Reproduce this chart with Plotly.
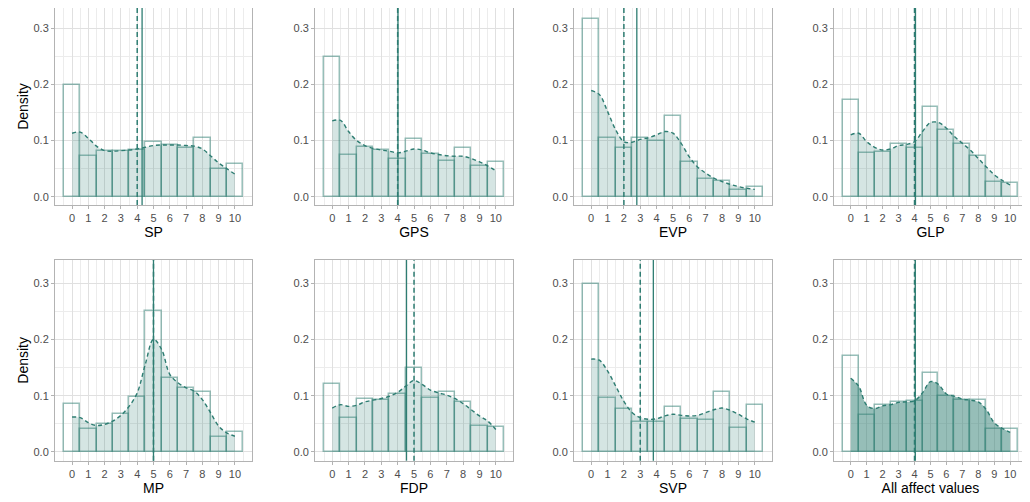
import plotly.graph_objects as go

# affect scale values 0-10, bins of width 1
BINS = [0, 1, 2, 3, 4, 5, 6, 7, 8, 9, 10]
DENS_X = [0, 0.5, 1, 1.5, 2, 2.5, 3, 3.5, 4, 4.5, 5,
          5.5, 6, 6.5, 7, 7.5, 8, 8.5, 9, 9.5, 10]

SP_HIST = [0.198, 0.072, 0.081, 0.082, 0.083, 0.098, 0.0915, 0.087, 0.105, 0.050, 0.058]
SP_DENS = [0.113, 0.115, 0.104, 0.090, 0.082, 0.081, 0.082, 0.083, 0.085, 0.088, 0.091,
           0.092, 0.092, 0.092, 0.091, 0.090, 0.085, 0.073, 0.060, 0.050, 0.040]

GPS_HIST = [0.248, 0.074, 0.088, 0.084, 0.067, 0.102, 0.076, 0.063, 0.086, 0.055, 0.062]
GPS_DENS = [0.135, 0.136, 0.116, 0.100, 0.091, 0.086, 0.083, 0.081, 0.078, 0.081, 0.085,
            0.083, 0.078, 0.075, 0.073, 0.072, 0.072, 0.068, 0.062, 0.055, 0.046]

EVP_HIST = [0.316, 0.104, 0.087, 0.105, 0.100, 0.144, 0.061, 0.031, 0.028, 0.012, 0.018]
EVP_DENS = [0.189, 0.182, 0.152, 0.119, 0.098, 0.097, 0.102, 0.105, 0.110, 0.116, 0.113,
            0.095, 0.071, 0.053, 0.042, 0.033, 0.027, 0.022, 0.018, 0.015, 0.013]

GLP_HIST = [0.172, 0.078, 0.080, 0.094, 0.086, 0.160, 0.118, 0.093, 0.073, 0.026, 0.024]
GLP_DENS = [0.110, 0.113, 0.098, 0.088, 0.083, 0.085, 0.091, 0.093, 0.098, 0.116, 0.132,
            0.132, 0.122, 0.107, 0.095, 0.083, 0.068, 0.053, 0.039, 0.029, 0.021]

MP_HIST = [0.0856, 0.040, 0.049, 0.068, 0.097, 0.251, 0.131, 0.114, 0.107, 0.027, 0.036]
MP_DENS = [0.062, 0.061, 0.052, 0.047, 0.049, 0.055, 0.065, 0.081, 0.105, 0.156, 0.200,
           0.182, 0.138, 0.123, 0.114, 0.108, 0.093, 0.070, 0.046, 0.034, 0.028]

FDP_HIST = [0.121, 0.061, 0.094, 0.0915, 0.103, 0.150, 0.096, 0.106, 0.0885, 0.046, 0.044]
FDP_DENS = [0.078, 0.084, 0.081, 0.083, 0.089, 0.092, 0.095, 0.099, 0.106, 0.117, 0.127,
            0.120, 0.110, 0.105, 0.101, 0.095, 0.086, 0.075, 0.064, 0.055, 0.040]

SVP_HIST = [0.298, 0.096, 0.0755, 0.0535, 0.0535, 0.080, 0.059, 0.0565, 0.106, 0.043, 0.083]
SVP_DENS = [0.165, 0.163, 0.144, 0.117, 0.090, 0.070, 0.061, 0.058, 0.059, 0.064, 0.067,
            0.065, 0.064, 0.065, 0.070, 0.075, 0.078, 0.074, 0.067, 0.059, 0.053]

ALL_HIST = [0.171, 0.066, 0.0826, 0.089, 0.090, 0.140, 0.100, 0.093, 0.092, 0.041, 0.040]
ALL_DENS = [0.131, 0.117, 0.083, 0.077, 0.082, 0.084, 0.088, 0.089, 0.091, 0.105, 0.125,
            0.120, 0.103, 0.099, 0.094, 0.092, 0.089, 0.075, 0.052, 0.042, 0.035]

NAMES = ["SP", "GPS", "EVP", "GLP", "MP", "FDP", "SVP", "All affect values"]
HISTS = [SP_HIST, GPS_HIST, EVP_HIST, GLP_HIST, MP_HIST, FDP_HIST, SVP_HIST, ALL_HIST]
DENSITIES = [SP_DENS, GPS_DENS, EVP_DENS, GLP_DENS, MP_DENS, FDP_DENS, SVP_DENS, ALL_DENS]
MEANS = [4.30, 4.02, 2.79, 4.06, 5.00, 4.54, 3.80, 4.05]
MEDIANS = [4, 4, 2, 4, 5, 5, 3, 4]

TEAL = "rgb(46,125,114)"
FONT = "Liberation Sans, Arial, sans-serif"

# page body adds an 8px offset, domains compensate for it
col_x = [(0.0456, 0.2369), (0.2981, 0.4903), (0.5495, 0.7417), (0.8019, 0.9893)]
row_y = [(0.6076, 1.0), (0.0982, 0.498)]
row_range = [[-0.0148, 0.336], [-0.0155, 0.341]]

fig = go.Figure()
layout = dict(
    width=1030, height=502,
    margin=dict(l=0, r=0, t=0, b=0),
    plot_bgcolor="white", paper_bgcolor="white",
    showlegend=False, bargap=0,
    font=dict(family=FONT),
)
shapes = []

for i, name in enumerate(NAMES):
    n = i + 1
    xa = "x" if n == 1 else "x%d" % n
    ya = "y" if n == 1 else "y%d" % n
    r, c = divmod(i, 4)
    fill_alpha = 0.5 if name == "All affect values" else 0.2

    # density area underneath
    fig.add_trace(go.Scatter(x=DENS_X, y=DENSITIES[i], mode="lines",
                             line=dict(width=0, shape="spline", smoothing=1.0),
                             fill="tozeroy",
                             fillcolor="rgba(46,125,114,%s)" % fill_alpha,
                             xaxis=xa, yaxis=ya, hoverinfo="skip"))
    # histogram outlines
    fig.add_trace(go.Bar(x=BINS, y=HISTS[i], width=1,
                         marker=dict(color="rgba(0,0,0,0)",
                                     line=dict(color="rgba(46,125,114,0.5)", width=1.5)),
                         xaxis=xa, yaxis=ya))
    # density line
    fig.add_trace(go.Scatter(x=DENS_X, y=DENSITIES[i], mode="lines",
                             line=dict(color=TEAL, width=1.4, dash="4px,3px",
                                       shape="spline", smoothing=1.0),
                             xaxis=xa, yaxis=ya))

    shapes.append(dict(type="line", xref=xa, yref=ya + " domain",
                       x0=MEDIANS[i], x1=MEDIANS[i], y0=0, y1=1,
                       line=dict(color=TEAL, width=1.5, dash="5px,3px")))
    shapes.append(dict(type="line", xref=xa, yref=ya + " domain",
                       x0=MEANS[i], x1=MEANS[i], y0=0, y1=1,
                       line=dict(color=TEAL, width=1.3)))

    axis_common = dict(showline=True, linecolor="#b3b3b3", linewidth=1, mirror=True,
                       ticks="outside", ticklen=3, tickcolor="#b3b3b3",
                       tickfont=dict(size=11, color="#4d4d4d", family=FONT),
                       showgrid=True, gridcolor="#e0e0e0", gridwidth=0.8,
                       zeroline=False, automargin=False)
    layout["xaxis" if n == 1 else "xaxis%d" % n] = dict(
        axis_common, domain=list(col_x[c]), anchor=ya,
        range=[-1.05, 11.05], tickmode="array", tickvals=BINS,
        minor=dict(dtick=0.5, tick0=0.5, showgrid=True, gridcolor="#ececec", gridwidth=0.6),
        title=dict(text=name, font=dict(size=14, color="black"), standoff=2))
    layout["yaxis" if n == 1 else "yaxis%d" % n] = dict(
        axis_common, domain=list(row_y[r]), anchor=xa,
        range=row_range[r], tickmode="array", tickvals=[0, 0.1, 0.2, 0.3],
        tickformat=".1f",
        minor=dict(dtick=0.05, tick0=0.05, showgrid=True, gridcolor="#ececec", gridwidth=0.6),
        title=dict(text="Density" if c == 0 else "", font=dict(size=14, color="black"),
                   standoff=1))

layout["shapes"] = shapes
fig.update_layout(**layout)

fig.write_html("out.html")
